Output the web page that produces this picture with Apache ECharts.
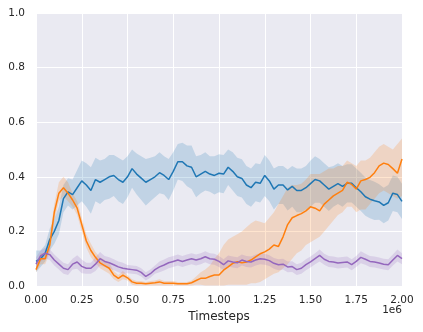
<!DOCTYPE html>
<html><head><meta charset="utf-8">
<script src="https://cdn.jsdelivr.net/npm/echarts@6/dist/echarts.min.js"></script>
<style>html,body{margin:0;padding:0;background:#fff}#c{width:423px;height:332px}</style>
</head><body><div id="c"></div>
<script>
const blueMean = [0.09,0.10,0.12,0.17,0.20,0.24,0.32,0.345,0.335,0.36,
 0.385,0.37,0.35,0.39,0.38,0.39,0.40,0.405,0.39,0.38,
 0.40,0.43,0.41,0.395,0.38,0.39,0.40,0.415,0.405,0.39,
 0.42,0.455,0.455,0.44,0.435,0.40,0.41,0.42,0.41,0.405,
 0.413,0.41,0.435,0.42,0.40,0.394,0.37,0.36,0.38,0.376,
 0.405,0.385,0.355,0.37,0.37,0.352,0.365,0.35,0.35,0.36,
 0.375,0.39,0.385,0.37,0.355,0.365,0.375,0.365,0.376,0.376,
 0.36,0.345,0.327,0.318,0.312,0.308,0.295,0.305,0.34,0.335,
 0.31];
const blueHalf = [0.04,0.03,0.03,0.04,0.045,0.05,0.05,0.05,0.055,0.065,
 0.075,0.08,0.085,0.08,0.08,0.075,0.08,0.075,0.08,0.08,
 0.075,0.07,0.075,0.08,0.085,0.08,0.075,0.075,0.07,0.075,
 0.07,0.065,0.07,0.075,0.08,0.075,0.07,0.07,0.065,0.07,
 0.07,0.07,0.065,0.07,0.07,0.07,0.07,0.07,0.07,0.07,
 0.075,0.075,0.075,0.07,0.07,0.075,0.075,0.08,0.08,0.08,
 0.085,0.085,0.08,0.08,0.08,0.075,0.075,0.075,0.07,0.07,
 0.07,0.07,0.07,0.07,0.07,0.065,0.065,0.065,0.065,0.065,
 0.065];
const orangeMean = [0.06,0.10,0.10,0.15,0.27,0.34,0.36,0.34,0.315,0.285,
 0.225,0.165,0.13,0.105,0.085,0.075,0.065,0.04,0.028,0.04,
 0.03,0.015,0.01,0.01,0.008,0.01,0.012,0.015,0.01,0.01,
 0.01,0.008,0.008,0.008,0.012,0.02,0.028,0.028,0.035,0.04,
 0.04,0.058,0.07,0.083,0.089,0.085,0.088,0.095,0.107,0.118,
 0.125,0.135,0.15,0.145,0.18,0.225,0.25,0.258,0.265,0.275,
 0.29,0.285,0.275,0.30,0.315,0.33,0.34,0.35,0.38,0.372,
 0.355,0.385,0.39,0.398,0.415,0.44,0.45,0.445,0.43,0.413,
 0.465];
const orangeLo = [0.05,0.08,0.08,0.12,0.24,0.31,0.33,0.31,0.29,0.26,
 0.20,0.14,0.105,0.085,0.065,0.055,0.045,0.025,0.015,0.025,
 0.02,0.005,0.002,0.002,0.002,0.002,0.002,0.002,0.002,0.002,
 0.002,0.002,0.002,0.002,0.002,0.005,0.005,0.002,0.002,0.002,
 0.002,0.002,0.005,0.005,0.005,0.005,0.005,0.01,0.01,0.015,
 0.025,0.035,0.045,0.05,0.065,0.08,0.10,0.12,0.13,0.15,
 0.16,0.17,0.18,0.20,0.22,0.24,0.26,0.27,0.29,0.29,
 0.27,0.28,0.28,0.30,0.32,0.34,0.35,0.34,0.33,0.32,
 0.33];
const orangeHi = [0.08,0.12,0.12,0.18,0.30,0.38,0.40,0.38,0.34,0.31,
 0.25,0.19,0.155,0.125,0.105,0.095,0.085,0.055,0.04,0.055,
 0.04,0.025,0.018,0.018,0.015,0.018,0.02,0.025,0.018,0.018,
 0.018,0.015,0.015,0.015,0.02,0.035,0.05,0.06,0.075,0.10,
 0.12,0.15,0.17,0.18,0.19,0.20,0.215,0.23,0.24,0.235,
 0.23,0.25,0.27,0.30,0.33,0.36,0.37,0.37,0.375,0.39,
 0.41,0.41,0.41,0.42,0.43,0.43,0.44,0.44,0.46,0.45,
 0.44,0.46,0.46,0.47,0.49,0.51,0.52,0.51,0.50,0.52,
 0.54];
const purpleMean = [0.08,0.11,0.12,0.115,0.095,0.08,0.065,0.06,0.08,0.088,
 0.072,0.065,0.065,0.08,0.10,0.09,0.085,0.078,0.07,0.065,
 0.062,0.06,0.058,0.05,0.035,0.045,0.06,0.07,0.077,0.085,
 0.09,0.095,0.09,0.095,0.10,0.095,0.10,0.107,0.10,0.098,
 0.09,0.078,0.092,0.088,0.085,0.095,0.09,0.088,0.095,0.10,
 0.098,0.093,0.083,0.078,0.08,0.07,0.071,0.06,0.065,0.078,
 0.088,0.10,0.112,0.098,0.09,0.088,0.084,0.086,0.088,0.078,
 0.09,0.105,0.098,0.09,0.088,0.084,0.08,0.078,0.095,0.112,
 0.10];
const purpleHalf = [0.025,0.02,0.02,0.02,0.02,0.02,0.02,0.02,0.02,0.025,
 0.025,0.02,0.02,0.025,0.025,0.02,0.02,0.02,0.02,0.02,
 0.015,0.015,0.015,0.015,0.015,0.015,0.015,0.02,0.02,0.02,
 0.02,0.02,0.02,0.02,0.02,0.02,0.02,0.02,0.02,0.02,
 0.02,0.02,0.02,0.02,0.02,0.02,0.02,0.02,0.02,0.02,
 0.02,0.02,0.02,0.02,0.02,0.02,0.02,0.02,0.02,0.02,
 0.02,0.02,0.022,0.02,0.02,0.02,0.02,0.02,0.02,0.02,
 0.02,0.022,0.02,0.02,0.02,0.02,0.02,0.02,0.02,0.022,
 0.02];
// timesteps in units of 1e6 (sampling grid, step 0.025)
const timesteps = blueMean.map((_, i) => +(i * 0.025).toFixed(3));
const xTicks = [0, 0.25, 0.5, 0.75, 1.0, 1.25, 1.5, 1.75, 2.0];
const yTicks = [0, 0.2, 0.4, 0.6, 0.8, 1.0];

const blueLo = blueMean.map((v, i) => Math.max(0, v - blueHalf[i]));
const blueHi = blueMean.map((v, i) => v + blueHalf[i]);
const purpleLo = purpleMean.map((v, i) => Math.max(0, v - purpleHalf[i]));
const purpleHi = purpleMean.map((v, i) => v + purpleHalf[i]);

function lineSeries(name, vals, color) {
  return {
    type: 'line', name, showSymbol: false, silent: true,
    data: vals.map((v, i) => [timesteps[i], v]),
    lineStyle: { color, width: 1.5 }, itemStyle: { color }
  };
}
function bandSeries(name, lo, hi, fill) {
  return {
    type: 'custom', name, silent: true, clip: true,
    data: [[0, 0]],
    renderItem: function (params, api) {
      const pts = [];
      for (let i = 0; i < timesteps.length; i++) pts.push(api.coord([timesteps[i], hi[i]]));
      for (let i = timesteps.length - 1; i >= 0; i--) pts.push(api.coord([timesteps[i], lo[i]]));
      return { type: 'polygon', shape: { points: pts }, style: { fill: fill, stroke: null } };
    }
  };
}

const chart = echarts.init(document.getElementById('c'), null, { renderer: 'canvas' });
chart.setOption({
  animation: false,
  backgroundColor: '#ffffff',
  textStyle: { fontFamily: 'DejaVu Sans' },
  grid: { left: 36, right: 21, top: 13, bottom: 46, show: true, backgroundColor: '#EAEAF2', borderWidth: 0 },
  xAxis: {
    type: 'value', min: 0, max: 2, interval: 0.25,
    name: 'Timesteps', nameLocation: 'middle', nameGap: 25,
    nameTextStyle: { fontSize: 12, color: '#262626', fontFamily: 'DejaVu Sans' },
    axisLine: { show: false }, axisTick: { show: false },
    axisLabel: { fontSize: 10.5, color: '#262626', margin: 9, formatter: v => xTicks.includes(+v.toFixed(2)) ? v.toFixed(2) : '' },
    splitLine: { show: true, lineStyle: { color: '#ffffff', width: 1 } }
  },
  yAxis: {
    type: 'value', min: 0, max: 1, interval: 0.2,
    axisLine: { show: false }, axisTick: { show: false },
    axisLabel: { fontSize: 10.5, color: '#262626', margin: 11, formatter: v => yTicks.some(t => Math.abs(t - v) < 1e-9) ? v.toFixed(1) : '' },
    splitLine: { show: true, lineStyle: { color: '#ffffff', width: 1 } }
  },
  graphic: [{
    type: 'text', right: 21, top: 305,
    style: { text: '1e6', fontSize: 10.5, fill: '#262626', fontFamily: 'DejaVu Sans' }
  }],
  series: [
    lineSeries('blue', blueMean, '#1f77b4'),
    bandSeries('blueBand', blueLo, blueHi, 'rgba(31,119,180,0.2)'),
    lineSeries('orange', orangeMean, '#ff7f0e'),
    bandSeries('orangeBand', orangeLo, orangeHi, 'rgba(255,127,14,0.2)'),
    lineSeries('purple', purpleMean, '#9467bd'),
    bandSeries('purpleBand', purpleLo, purpleHi, 'rgba(148,103,189,0.2)')
  ]
});
</script></body></html>
